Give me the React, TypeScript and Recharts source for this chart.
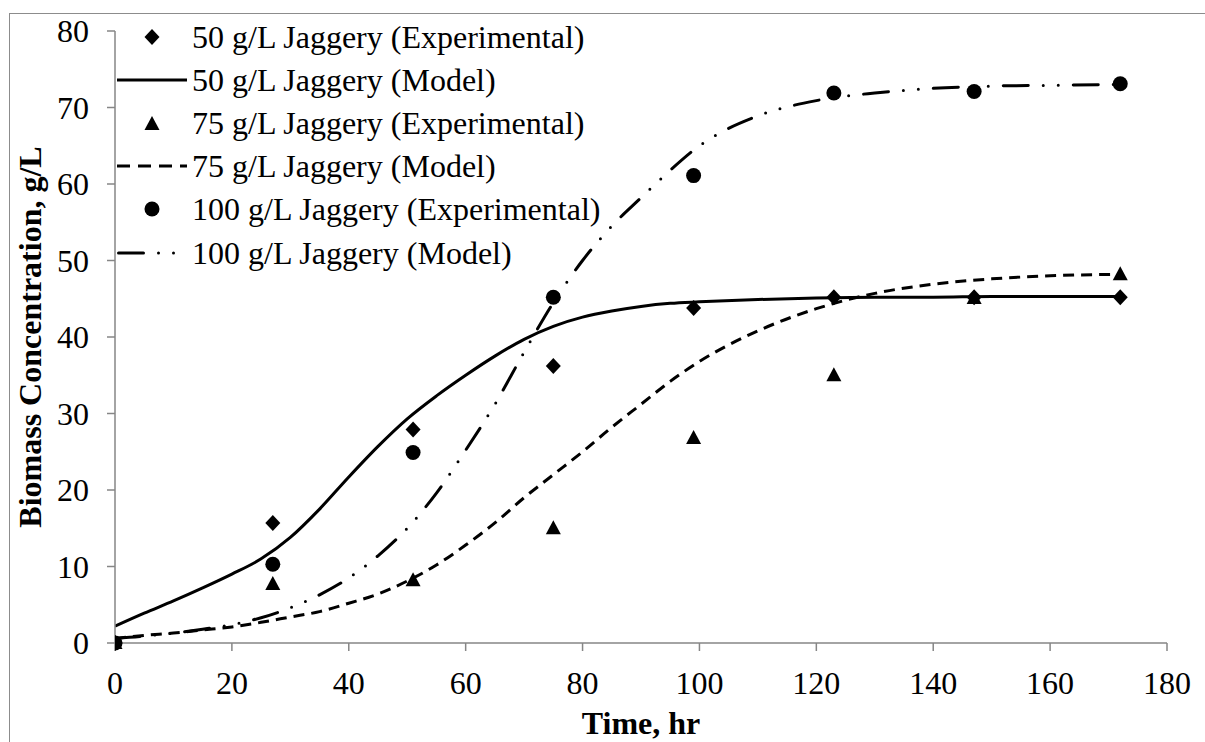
import React from 'react';
import { ComposedChart, Line, Scatter, XAxis, YAxis, Legend } from 'recharts';

// Sampling times (hr) for the measured biomass
const expTime = [0, 27, 51, 75, 99, 123, 147, 172];
const exp50 = [0, 15.7, 27.9, 36.2, 43.8, 45.2, 45.2, 45.2];
const exp75 = [0, 7.7, 8.2, 15.0, 26.8, 35.0, 45.1, 48.2];
const exp100 = [0, 10.3, 24.9, 45.2, 61.1, 71.9, 72.1, 73.1];

// Model curves (g/L) evaluated on a common time grid
const modelTime = [0, 5, 10, 15, 20, 25, 30, 35, 40, 45, 50, 55, 60, 65, 70, 75, 80, 85, 90, 95, 100, 110, 120, 130, 140, 150, 160, 172];
const model50 = [2.2, 3.9, 5.5, 7.2, 9.0, 11.0, 13.8, 17.5, 21.7, 25.7, 29.3, 32.3, 35.0, 37.5, 39.7, 41.4, 42.6, 43.4, 44.0, 44.4, 44.6, 44.9, 45.1, 45.2, 45.2, 45.3, 45.3, 45.3];
const model75 = [0.6, 1.0, 1.3, 1.7, 2.1, 2.7, 3.4, 4.1, 5.2, 6.4, 8.1, 10.2, 12.8, 15.7, 19.0, 22.0, 25.0, 28.2, 31.2, 34.2, 36.8, 40.8, 43.7, 45.7, 46.9, 47.6, 48.0, 48.2];
const model100 = [0.6, 0.9, 1.3, 1.8, 2.4, 3.3, 4.6, 6.3, 8.5, 11.4, 15.0, 19.6, 25.2, 31.2, 38.0, 44.5, 50.0, 54.5, 58.2, 61.8, 65.0, 68.9, 70.9, 71.9, 72.5, 72.8, 72.9, 73.0];

const xTicks = [0, 20, 40, 60, 80, 100, 120, 140, 160, 180];
const yTicks = [0, 10, 20, 30, 40, 50, 60, 70, 80];

const legendLabels = [
  '50 g/L Jaggery (Experimental)',
  '50 g/L Jaggery (Model)',
  '75 g/L Jaggery (Experimental)',
  '75 g/L Jaggery (Model)',
  '100 g/L Jaggery (Experimental)',
  '100 g/L Jaggery (Model)',
];

const toPoints = (xs: number[], ys: number[]) => xs.map((t, i) => ({ t, y: ys[i] }));

const FONT = '"Liberation Serif", "Times New Roman", serif';
const FONT_SIZE = 32;
const AXIS_GREY = '#868686';
const DASH_75 = '11 7';
const DASH_100 = '25 15 0 15 0 15';

const Diamond = (props: any) => {
  const { cx, cy } = props;
  return <polygon points={`${cx},${cy - 8} ${cx + 7.5},${cy} ${cx},${cy + 8} ${cx - 7.5},${cy}`} fill="#000" />;
};

const Triangle = (props: any) => {
  const { cx, cy } = props;
  return <polygon points={`${cx},${cy - 8} ${cx + 7.5},${cy + 6} ${cx - 7.5},${cy + 6}`} fill="#000" />;
};

const Dot = (props: any) => {
  const { cx, cy } = props;
  return <circle cx={cx} cy={cy} r={7.5} fill="#000" />;
};

// Legend swatches: marker or line sample, 70px wide
const Swatch = ({ idx }: { idx: number }) => {
  const w = 70;
  const h = 20;
  const m = h / 2;
  let mark: React.ReactNode = null;
  if (idx === 0) mark = <Diamond cx={35} cy={m} />;
  if (idx === 2) mark = <Triangle cx={35} cy={m + 1} />;
  if (idx === 4) mark = <Dot cx={35} cy={m} />;
  if (idx === 1) mark = <line x1={0} y1={m} x2={w} y2={m} stroke="#000" strokeWidth={3} />;
  if (idx === 3) mark = <line x1={0} y1={m} x2={w} y2={m} stroke="#000" strokeWidth={3} strokeDasharray="13 8" />;
  if (idx === 5) mark = <line x1={1.5} y1={m} x2={w} y2={m} stroke="#000" strokeWidth={3} strokeLinecap="round" strokeDasharray={DASH_100} />;
  return (
    <svg width={w} height={h} style={{ display: 'block', overflow: 'visible' }}>
      {mark}
    </svg>
  );
};

const renderLegend = () => (
  <div style={{ fontFamily: FONT, fontSize: FONT_SIZE, color: '#000', lineHeight: 1 }}>
    {legendLabels.map((label, i) => (
      <div key={label} style={{ display: 'flex', alignItems: 'center', height: 43.2 }}>
        <div style={{ width: 75, display: 'flex', alignItems: 'center' }}>
          <Swatch idx={i} />
        </div>
        <span style={{ whiteSpace: 'nowrap' }}>{label}</span>
      </div>
    ))}
  </div>
);

const YTitle = (props: any) => {
  const { viewBox } = props;
  const x = viewBox.x - 25;
  const y = viewBox.y + viewBox.height / 2;
  return (
    <text x={x} y={y} transform={`rotate(-90, ${x}, ${y})`} textAnchor="middle" dominantBaseline="central"
      fontFamily={FONT} fontWeight="bold" fontSize={FONT_SIZE} fill="#000">
      Biomass Concentration, g/L
    </text>
  );
};

const XTitle = (props: any) => {
  const { viewBox } = props;
  return (
    <text x={viewBox.x + viewBox.width / 2} y={viewBox.y + 91} textAnchor="middle"
      fontFamily={FONT} fontWeight="bold" fontSize={FONT_SIZE} fill="#000">
      Time, hr
    </text>
  );
};

export default function App() {
  return (
    <div style={{ position: 'fixed', left: 0, top: 0, width: 1205, height: 742, overflow: 'hidden', background: '#fff' }}>
      <div style={{ position: 'absolute', left: 9, top: 13, width: 1400, height: 900, border: '1px solid #8c8c8c' }} />
      <ComposedChart width={1205} height={742} margin={{ top: 31, right: 38, bottom: 39, left: 55 }}>
        <XAxis
          type="number"
          dataKey="t"
          domain={[0, 180]}
          ticks={xTicks}
          allowDataOverflow
          stroke={AXIS_GREY}
          strokeWidth={1.5}
          tickSize={8}
          tickMargin={20}
          height={60}
          tick={{ fontSize: FONT_SIZE, fill: '#000', fontFamily: FONT }}
          label={<XTitle />}
        />
        <YAxis
          type="number"
          domain={[0, 80]}
          ticks={yTicks}
          stroke={AXIS_GREY}
          strokeWidth={1.5}
          tickSize={8}
          tickMargin={18}
          width={60}
          tick={{ fontSize: FONT_SIZE, fill: '#000', fontFamily: FONT }}
          label={<YTitle />}
        />
        <Legend
          layout="vertical"
          align="center"
          verticalAlign="middle"
          content={renderLegend}
          wrapperStyle={{ top: 15, left: 117, width: 580, height: 270 }}
        />
        <Line data={toPoints(modelTime, model50)} dataKey="y" type="monotone" stroke="#000" strokeWidth={3}
          dot={false} activeDot={false} isAnimationActive={false} legendType="none" />
        <Line data={toPoints(modelTime, model75)} dataKey="y" type="monotone" stroke="#000" strokeWidth={3}
          strokeDasharray={DASH_75} dot={false} activeDot={false} isAnimationActive={false} legendType="none" />
        <Line data={toPoints(modelTime, model100)} dataKey="y" type="monotone" stroke="#000" strokeWidth={3}
          strokeLinecap="round" strokeDasharray={DASH_100} dot={false} activeDot={false} isAnimationActive={false} legendType="none" />
        <Scatter data={toPoints(expTime, exp50)} dataKey="y" shape={<Diamond />} isAnimationActive={false} legendType="none" />
        <Scatter data={toPoints(expTime, exp75)} dataKey="y" shape={<Triangle />} isAnimationActive={false} legendType="none" />
        <Scatter data={toPoints(expTime, exp100)} dataKey="y" shape={<Dot />} isAnimationActive={false} legendType="none" />
      </ComposedChart>
    </div>
  );
}
